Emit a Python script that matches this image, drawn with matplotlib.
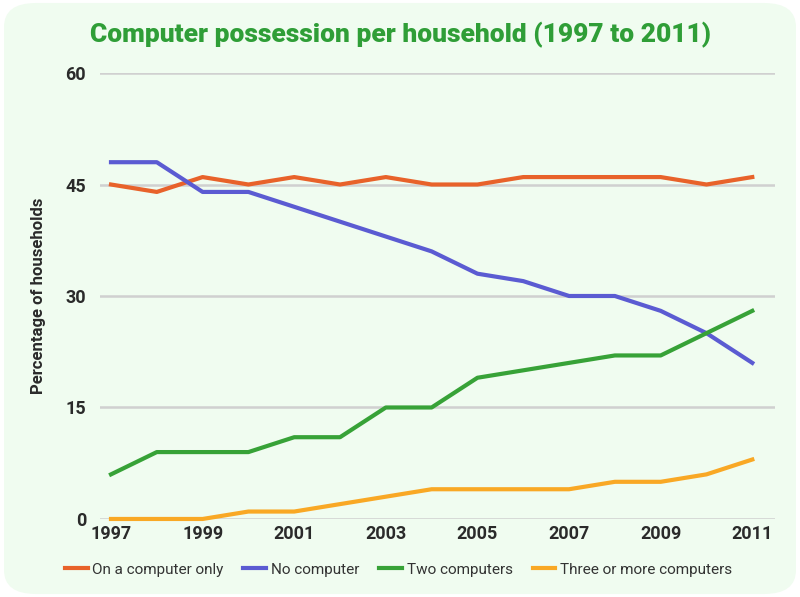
import matplotlib
matplotlib.use("Agg")
import matplotlib.pyplot as plt
from matplotlib.patches import FancyBboxPatch

years = list(range(1997, 2012))
one_computer = [45, 44, 46, 45, 46, 45, 46, 45, 45, 46, 46, 46, 46, 45, 46]
no_computer = [48, 48, 44, 44, 42, 40, 38, 36, 33, 32, 30, 30, 28, 25, 21]
two_computers = [6, 9, 9, 9, 11, 11, 15, 15, 19, 20, 21, 22, 22, 25, 28]
three_more = [0, 0, 0, 1, 1, 2, 3, 4, 4, 4, 4, 5, 5, 6, 8]
series_names = ["On a computer only", "No computer", "Two computers", "Three or more computers"]
colors = ["#e8622a", "#5b5bd2", "#37a237", "#f9a825"]
yticks = [0, 15, 30, 45, 60]
xticks = [1997, 1999, 2001, 2003, 2005, 2007, 2009, 2011]

fig = plt.figure(figsize=(8, 5.97), dpi=100)
fig.patch.set_facecolor("white")
bg = FancyBboxPatch((0.005, 0.005), 0.99, 0.99, boxstyle="round,pad=0,rounding_size=0.04",
                    transform=fig.transFigure, facecolor="#f0fcf0", edgecolor="none", zorder=-10)
fig.patches.append(bg)

ax = fig.add_axes([0.125, 0.1307, 0.844, 0.747])
ax.set_facecolor("none")
for vals, c, n in zip([one_computer, no_computer, two_computers, three_more], colors, series_names):
    ax.plot(years, vals, color=c, lw=3, label=n, solid_joinstyle="round", zorder=3, clip_on=False)

ax.set_xlim(1996.76, 2011.5)
ax.set_ylim(0, 60)
ax.set_yticks(yticks)
ax.set_xticks(xticks)
ax.grid(axis="y", color="#d0d0d0", lw=1.8)
ax.set_axisbelow(True)
for s in ax.spines.values():
    s.set_visible(False)
ax.tick_params(length=0, labelsize=13, labelcolor="#2a2a2a")
ax.tick_params(axis="y", pad=10)
ax.tick_params(axis="x", pad=4)
for lab in ax.get_xticklabels() + ax.get_yticklabels():
    lab.set_fontweight("bold")
    lab.set_fontfamily("Roboto")
ax.set_ylabel("Percentage of households", fontsize=12, fontweight="bold", color="#2a2a2a",
              fontfamily="Roboto", labelpad=14)

fig.text(0.5, 0.942, "Computer possession per household (1997 to 2011)", ha="center", va="center",
         fontsize=19, fontweight="heavy", color="#2f9e37", fontfamily="Roboto")

leg = fig.legend(loc="center", bbox_to_anchor=(0.498, 0.046), ncol=4, frameon=False,
                 handlelength=1.5, handletextpad=0.3, columnspacing=1.3,
                 prop={"family": "Roboto", "size": 11})
for t in leg.get_texts():
    t.set_color("#333333")

fig.savefig("out.png", dpi=100, facecolor=fig.get_facecolor())
